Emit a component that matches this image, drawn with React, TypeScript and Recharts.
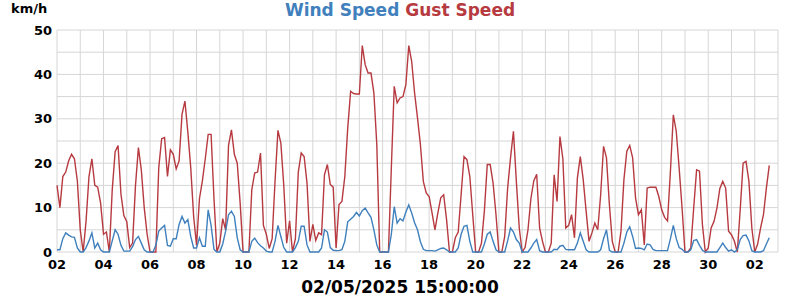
import { LineChart, Line, XAxis, YAxis, CartesianGrid } from "recharts";

// readings every 3 hours, starting 02/04 00:00
const startDay = 2;
const daysInApril = 30;
const stepHours = 3;

const gust = [
  15, 10, 17, 18, 20.5, 22, 21, 16,
  5, 0, 7, 17, 21, 15, 14.6, 11,
  4, 4.5, 0, 14, 22.6, 24, 13, 8.2,
  6.8, 1, 2, 15, 23.5, 18.5, 10, 4,
  0, 0, 0, 19, 25.5, 25.8, 17, 23,
  22, 18.7, 20.5, 31, 34, 27, 19, 8,
  1.5, 12, 16, 21, 26.5, 26.5, 12, 0,
  2, 7.5, 5, 24, 27.5, 22, 20, 11,
  0, 0, 0, 14, 17.8, 18, 22.3, 6,
  4, 0.8, 3, 16, 27.4, 24.5, 15, 2,
  7, 0, 3, 18, 22.3, 21.5, 15.5, 2.4,
  6.2, 2.6, 4.3, 3.9, 17.4, 19.7, 15.2, 14.6,
  0.9, 10.7, 11.4, 17, 27.9, 36.2, 35.7, 35.6,
  35.6, 46.5, 42.2, 40.3, 40.3, 35.8, 24.2, 0,
  0, 0, 0, 18.9, 37.3, 33.6, 34.7, 35,
  37.7, 46.5, 42.9, 35.8, 30.2, 24.2, 15.9, 13.3,
  12.5, 8.8, 5, 8.8, 12.2, 12.9, 7.3, 0,
  0, 3.2, 4.5, 12.9, 21.5, 20.8, 17, 8.4,
  0, 0, 2, 9.2, 19.7, 19.7, 15.5, 8.4,
  0, 0, 3.5, 14.4, 21.2, 27.2, 15.9, 5.4,
  0, 1, 5, 12, 16, 17.5, 5.4, 2.4,
  0, 0, 2, 17.4, 11.4, 26, 21, 5.4,
  6, 8.4, 3.2, 16.7, 21.5, 16.3, 9.2, 2.4,
  4.3, 6.5, 5, 12.9, 23.8, 21.2, 10.7, 2.4,
  0, 0, 4.7, 16.3, 22.7, 24, 21.2, 12.2,
  8.4, 9.5, 1.6, 14.4, 14.6, 14.6, 14.6, 12.5,
  9.5, 7.8, 7, 18.2, 30.9, 27.2, 18.9, 9.9,
  0, 0, 0.9, 9.9, 18.5, 18.2, 6.2, 0,
  0.9, 5.4, 6.9, 9.9, 14.3, 15.9, 14.4, 4.7,
  3.9, 2.4, 0, 9.5, 20, 20.4, 15.9, 5.4,
  0, 1.8, 5.4, 8.4, 14.4, 19.5,
];

const wind = [
  0.5, 0.5, 3, 4.3, 3.8, 3.4, 3.3, 0.9,
  0, 0, 1, 2.5, 4.3, 0.9, 2, 0.5,
  0, 0, 0, 2.5, 5, 4, 1.5, 0.2,
  0.2, 0.2, 1.2, 2.8, 3.5, 2, 0.5, 0,
  0, 0, 1.5, 4.7, 5.4, 6, 1.5, 1.3,
  3, 3, 6.2, 8, 6.5, 7.3, 3.5, 0.9,
  0.9, 3.2, 1.3, 1.3, 9.5, 6, 0.6, 0,
  0, 1.8, 4.7, 8.4, 9.2, 8, 3.2, 0.5,
  0, 0, 0, 2.4, 3.1, 2.1, 1.4, 0.9,
  0.2, 0, 0, 2.4, 6, 3.5, 1, 0,
  0, 0, 1, 2.4, 5.8, 5.8, 1.6, 0,
  0, 0, 0, 0.9, 5, 4.5, 1, 0.4,
  0.3, 0.3, 0.5, 2.4, 6.8, 7.4, 8, 8.9,
  8.1, 9.3, 9.9, 8.8, 7.8, 5, 1.6, 0,
  0, 0, 0, 4, 10.2, 6.5, 7.5, 7,
  9, 10.6, 8.8, 6.6, 5, 2.3, 0.6, 0.3,
  0.3, 0.3, 0.2, 0.5, 0.8, 0.9, 0.5, 0,
  0, 0, 0.9, 4, 5.8, 6, 2.4, 0,
  0, 0, 0, 1.8, 4, 4.5, 2.4, 0.5,
  0, 0, 0, 2.5, 5.4, 4.5, 2.8, 2,
  0, 0, 0, 0.9, 2, 2.8, 0.3, 0,
  0, 0, 0, 0.6, 0.5, 1.3, 1.5, 0.6,
  0.5, 0.5, 0.5, 2, 4.3, 2.4, 0.5, 0,
  0, 0, 0, 0.5, 3, 5, 0.4, 0,
  0, 0, 0, 2, 4.5, 5.7, 3.5, 0.8,
  0.9, 0.8, 0.5, 1.8, 1.6, 0.6, 0.3, 0.3,
  0.3, 0.3, 0.3, 3, 6, 3, 1, 0.6,
  0, 0, 0.5, 2.6, 2.8, 1.5, 0.4, 0,
  0, 0, 0, 0, 1, 2, 1, 0.2,
  0.5, 0, 0.5, 2.8, 3.7, 3.8, 2.5, 0.3,
  0, 0, 0, 0.3, 1.8, 3.2,
];

const yTicks = [0, 5, 10, 15, 20, 25, 30, 35, 40, 45, 50];
const dayTicks = Array.from({ length: 32 }, (_, i) => i * 24);

const data = gust.map((g, i) => ({ t: i * stepHours, gust: g, wind: wind[i] }));

const BLUE = "#3f80bd";
const RED = "#b63a40";
const FONT = "'DejaVu Sans', sans-serif";

function dayLabel(t: number) {
  const d = t / 24;
  if (d % 2 !== 0) return "";
  let day = startDay + d;
  if (day > daysInApril) day -= daysInApril;
  return String(day).padStart(2, "0");
}

export default function App() {
  return (
    <div style={{ position: "absolute", left: 0, top: 0, width: 800, height: 300, background: "#fff", fontFamily: FONT }}>
      <div style={{ position: "absolute", left: 11, top: 0, fontSize: 13, fontWeight: "bold", lineHeight: "17px" }}>km/h</div>
      <div style={{ position: "absolute", left: 0, top: -1, width: 800, textAlign: "center", fontSize: 17, fontWeight: "bold", lineHeight: "22px" }}>
        <span style={{ color: BLUE }}>Wind Speed</span> <span style={{ color: RED }}>Gust Speed</span>
      </div>
      <LineChart width={800} height={300} data={data} margin={{ top: 30, right: 22, bottom: 28, left: 0 }}>
        <CartesianGrid stroke="#d6d6d6" strokeWidth={1} />
        <XAxis
          dataKey="t"
          type="number"
          domain={[0, 744]}
          ticks={dayTicks}
          interval={0}
          tickFormatter={dayLabel}
          axisLine={false}
          tickLine={false}
          tickSize={0}
          tickMargin={8}
          height={20}
          tick={{ fontSize: 13, fontWeight: "bold", fill: "#000", fontFamily: FONT }}
        />
        <YAxis
          domain={[0, 50]}
          ticks={yTicks}
          interval={0}
          tickFormatter={(v) => (v % 10 === 0 ? String(v) : "")}
          axisLine={false}
          tickLine={false}
          tickSize={0}
          tickMargin={5}
          width={57}
          tick={{ fontSize: 13, fontWeight: "bold", fill: "#000", fontFamily: FONT }}
        />
        <Line type="linear" dataKey="gust" stroke={RED} strokeWidth={1.4} dot={false} isAnimationActive={false} />
        <Line type="linear" dataKey="wind" stroke={BLUE} strokeWidth={1.4} dot={false} isAnimationActive={false} />
      </LineChart>
      <div style={{ position: "absolute", left: 0, top: 277, width: 800, textAlign: "center", fontSize: 17, fontWeight: "bold", lineHeight: "20px" }}>
        02/05/2025 15:00:00
      </div>
    </div>
  );
}
